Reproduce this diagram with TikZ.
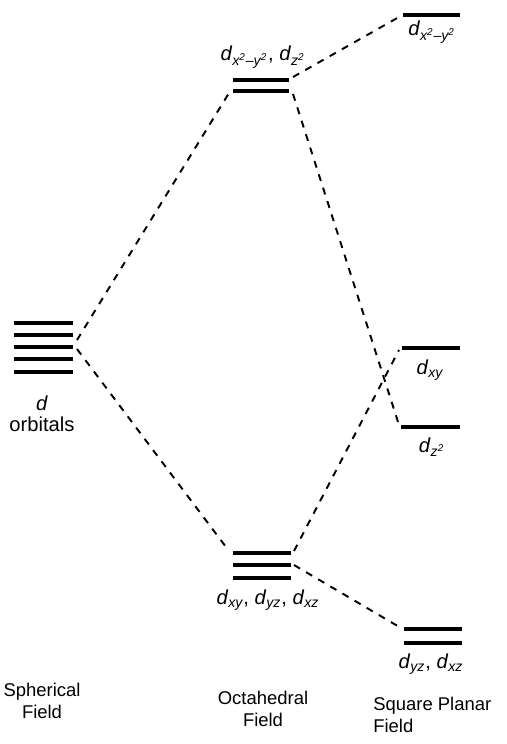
\documentclass[tikz,border=0pt]{standalone}
\usepackage{fontspec}
\setmainfont{Liberation Sans}
\usetikzlibrary{positioning}

\newcommand{\orbsub}[1]{\textit{d}\textsubscript{\itshape #1}}

\begin{document}
\begin{tikzpicture}[x=0.02cm,y=-0.02cm,
  levelline/.style={line width=2pt},
  splitline/.style={line width=1.1pt,dash pattern=on 4pt off 4pt},
  orblabel/.style={font=\fontsize{11.5}{13}\selectfont,inner sep=1pt},
  fieldlabel/.style={font=\fontsize{10.5}{12.5}\selectfont,align=center,
    inner sep=0pt}
]
  \useasboundingbox (0,0) rectangle (507,744);

  % spherical field
  \foreach \y in {323,335,347,359,372}
    \draw[levelline] (14,\y) -- (73,\y);
  \coordinate (sphup) at (77,340);
  \coordinate (sphdown) at (77,349);
  \node[orblabel] (dname) at (42,403) {\textit{d}};
  \node[orblabel] (orbname) at (42,424) {orbitals};

  % octahedral field
  \draw[levelline] (233,80) -- (289,80);
  \draw[levelline] (233,91) -- (289,91);
  \coordinate (egleft) at (229,93);
  \coordinate (egupright) at (293,77);
  \coordinate (egdownright) at (293,94);
  \node[orblabel] (eglabel) at (263,57)
    {\orbsub{x\textsuperscript{2}--y\textsuperscript{2}}, \orbsub{z\textsuperscript{2}}};

  \foreach \y in {553,565,578}
    \draw[levelline] (233,\y) -- (291,\y);
  \coordinate (tleft) at (229,551);
  \coordinate (tupright) at (294,551);
  \coordinate (tdownright) at (294,565);
  \node[orblabel] (tlabel) at (268,600)
    {\orbsub{xy}, \orbsub{yz}, \orbsub{xz}};

  % square planar field
  \draw[levelline] (403,15) -- (460,15);
  \coordinate (sqxy2) at (399,17);
  \node[orblabel] (sqxy2label) at (432,32)
    {\orbsub{x\textsuperscript{2}--y\textsuperscript{2}}};

  \draw[levelline] (402,348) -- (460,348);
  \coordinate (sqxy) at (399,350);
  \node[orblabel] (sqxylabel) at (430,370) {\orbsub{xy}};

  \draw[levelline] (401,427) -- (460,427);
  \coordinate (sqz2) at (399,425);
  \node[orblabel] (sqz2label) at (432,447) {\orbsub{z\textsuperscript{2}}};

  \draw[levelline] (404,629) -- (462,629);
  \draw[levelline] (404,643) -- (462,643);
  \coordinate (sqyz) at (401,628);
  \node[orblabel] (sqyzlabel) at (431,664) {\orbsub{yz}, \orbsub{xz}};

  % splitting connectors
  \draw[splitline] (sphup) -- (egleft);
  \draw[splitline] (sphdown) -- (tleft);
  \draw[splitline] (egupright) -- (sqxy2);
  \draw[splitline] (egdownright) -- (sqz2);
  \draw[splitline] (tupright) -- (sqxy);
  \draw[splitline] (tdownright) -- (sqyz);

  % field names
  \node[fieldlabel] (sphfield) at (42,701) {Spherical\\Field};
  \node[fieldlabel] (octfield) at (263,709) {Octahedral\\Field};
  \node[fieldlabel,align=left,anchor=west] (sqfield) at (373,715)
    {Square Planar\\Field};
\end{tikzpicture}
\end{document}
